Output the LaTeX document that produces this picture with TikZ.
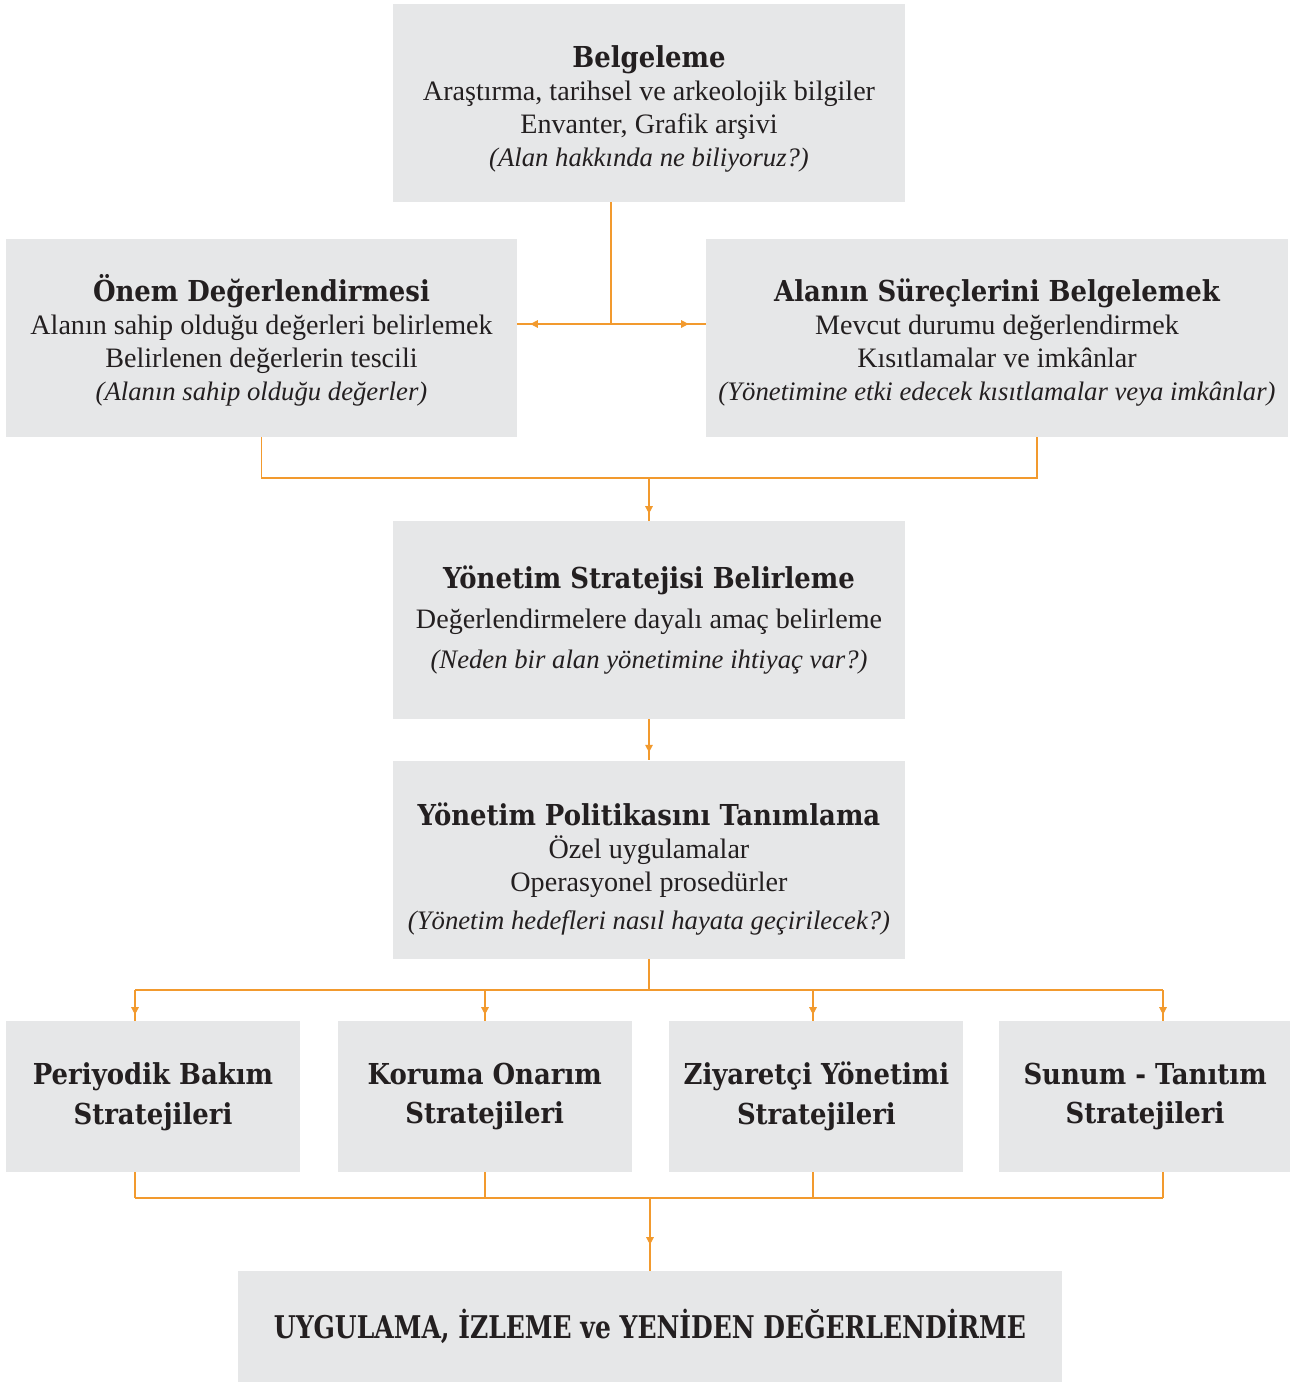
\documentclass[tikz,border=0pt]{standalone}
\usepackage{fontspec}
\setmainfont{Liberation Serif}
\newfontfamily\headfont[FakeStretch=0.9]{DejaVu Serif}
\newfontfamily\lastfont[FakeStretch=0.8]{DejaVu Serif}
\usetikzlibrary{arrows.meta, positioning}

\definecolor{boxgray}{HTML}{E6E7E8}
\definecolor{wireorange}{HTML}{F29A2E}
\definecolor{inkgray}{HTML}{231F20}

\newcommand\stagetitle[2][0pt]{{\headfont\bfseries\fontsize{16.4}{19}\selectfont\rule{0pt}{#1}#2}}
\newcommand\stagenote[1]{{\itshape\fontsize{15.2}{18.8}\selectfont #1}}

\begin{document}
\begin{tikzpicture}[
    stage/.style={
        rectangle,
        fill=boxgray,
        minimum width=10.24cm,
        minimum height=3.96cm,
        inner sep=0pt,
        align=center,
        text=inkgray,
        font=\fontsize{16}{18.8}\selectfont
    },
    branch/.style={
        stage,
        minimum width=5.88cm,
        minimum height=3.02cm,
        font=\headfont\bfseries\fontsize{16.4}{22.5}\selectfont
    },
    wire/.style={
        draw=wireorange,
        line width=0.8pt
    },
    tipgap/.style={
        postaction={draw=wireorange, line width=0.8pt,
            -{Triangle[length=1.5mm, width=1.5mm]}, shorten >=#1}
    }
]
    \useasboundingbox (0,0) rectangle (25.8,-27.64);

    \node (belge) [stage] at (12.98,-2.06) {
        \stagetitle[19pt]{Belgeleme}\\[0pt]
        Araştırma, tarihsel ve arkeolojik bilgiler\\
        Envanter, Grafik arşivi\\
        \stagenote{(Alan hakkında ne biliyoruz?)}
    };

    \node (onem) [stage, minimum width=10.22cm] at (5.23,-6.76) {
        \stagetitle[18pt]{Önem Değerlendirmesi}\\[0pt]
        Alanın sahip olduğu değerleri belirlemek\\
        Belirlenen değerlerin tescili\\
        \stagenote{(Alanın sahip olduğu değerler)}
    };

    \node (surec) [stage, minimum width=11.64cm] at (19.94,-6.76) {
        \stagetitle[18pt]{Alanın Süreçlerini Belgelemek}\\[0pt]
        Mevcut durumu değerlendirmek\\
        Kısıtlamalar ve imkânlar\\
        \stagenote{(Yönetimine etki edecek kısıtlamalar veya imkânlar)}
    };

    \node (strat) [stage] at (12.98,-12.4) {
        \stagetitle{Yönetim Stratejisi Belirleme}\\[4pt]
        Değerlendirmelere dayalı amaç belirleme\\[4pt]
        \stagenote{(Neden bir alan yönetimine ihtiyaç var?)}
    };

    \node (pol) [stage, below=0.82cm of strat] {
        \stagetitle[23.5pt]{Yönetim Politikasını Tanımlama}\\[0pt]
        Özel uygulamalar\\
        Operasyonel prosedürler\\[3pt]
        \stagenote{(Yönetim hedefleri nasıl hayata geçirilecek?)}
    };

    % strategy boxes
    \node (bakim) [branch] at (3.06,-21.93) {Periyodik Bakım\\Stratejileri};
    \node (onarim) [branch, right=0.74cm of bakim] {Koruma Onarım\\Stratejileri};
    \node (ziyaret) [branch, right=0.74cm of onarim] {Ziyaretçi Yönetimi\\Stratejileri};
    \node (sunum) [branch, minimum width=5.84cm, right=0.7cm of ziyaret] {Sunum - Tanıtım\\Stratejileri};

    \node (uygula) [stage, minimum width=16.48cm, minimum height=2.22cm,
        font=\lastfont\bfseries\fontsize{17.8}{19}\selectfont] at (13.0,-26.53)
        {UYGULAMA, İZLEME ve YENİDEN DEĞERLENDİRME};

    % connectors
    \coordinate (split) at (12.22,-6.48);
    \coordinate (join) at (12.98,-9.56);
    \coordinate (fork) at (12.98,-19.8);
    \coordinate (gather) at (13.0,-23.96);

    \draw [wire] (belge.south -| split) -- (split);
    \draw [wire, tipgap=0.26cm] (split) -- (onem.east |- split);
    \draw [wire, tipgap=0.34cm] (split) -- (surec.west |- split);

    \draw [wire] (onem.south) |- (20.74,-9.56) -- (surec.south -| 20.74,0);
    \draw [wire, tipgap=0.14cm] (join) -- (strat);
    \draw [wire, tipgap=0.16cm] (strat) -- (pol);

    \draw [wire] (pol) -- (fork);
    \draw [wire] (2.7,-19.8) -- (23.26,-19.8);
    \foreach \x/\n in {2.7/bakim, 9.7/onarim, 16.26/ziyaret, 23.26/sunum} {
        \draw [wire, tipgap=0.12cm] (\x,-19.8) -- (\n.north -| \x,0);
        \draw [wire] (\n.south -| \x,0) -- (\x,-23.96);
    }
    \draw [wire] (2.7,-23.96) -- (23.26,-23.96);
    \draw [wire, tipgap=0.52cm] (gather) -- (uygula);

\end{tikzpicture}
\end{document}
